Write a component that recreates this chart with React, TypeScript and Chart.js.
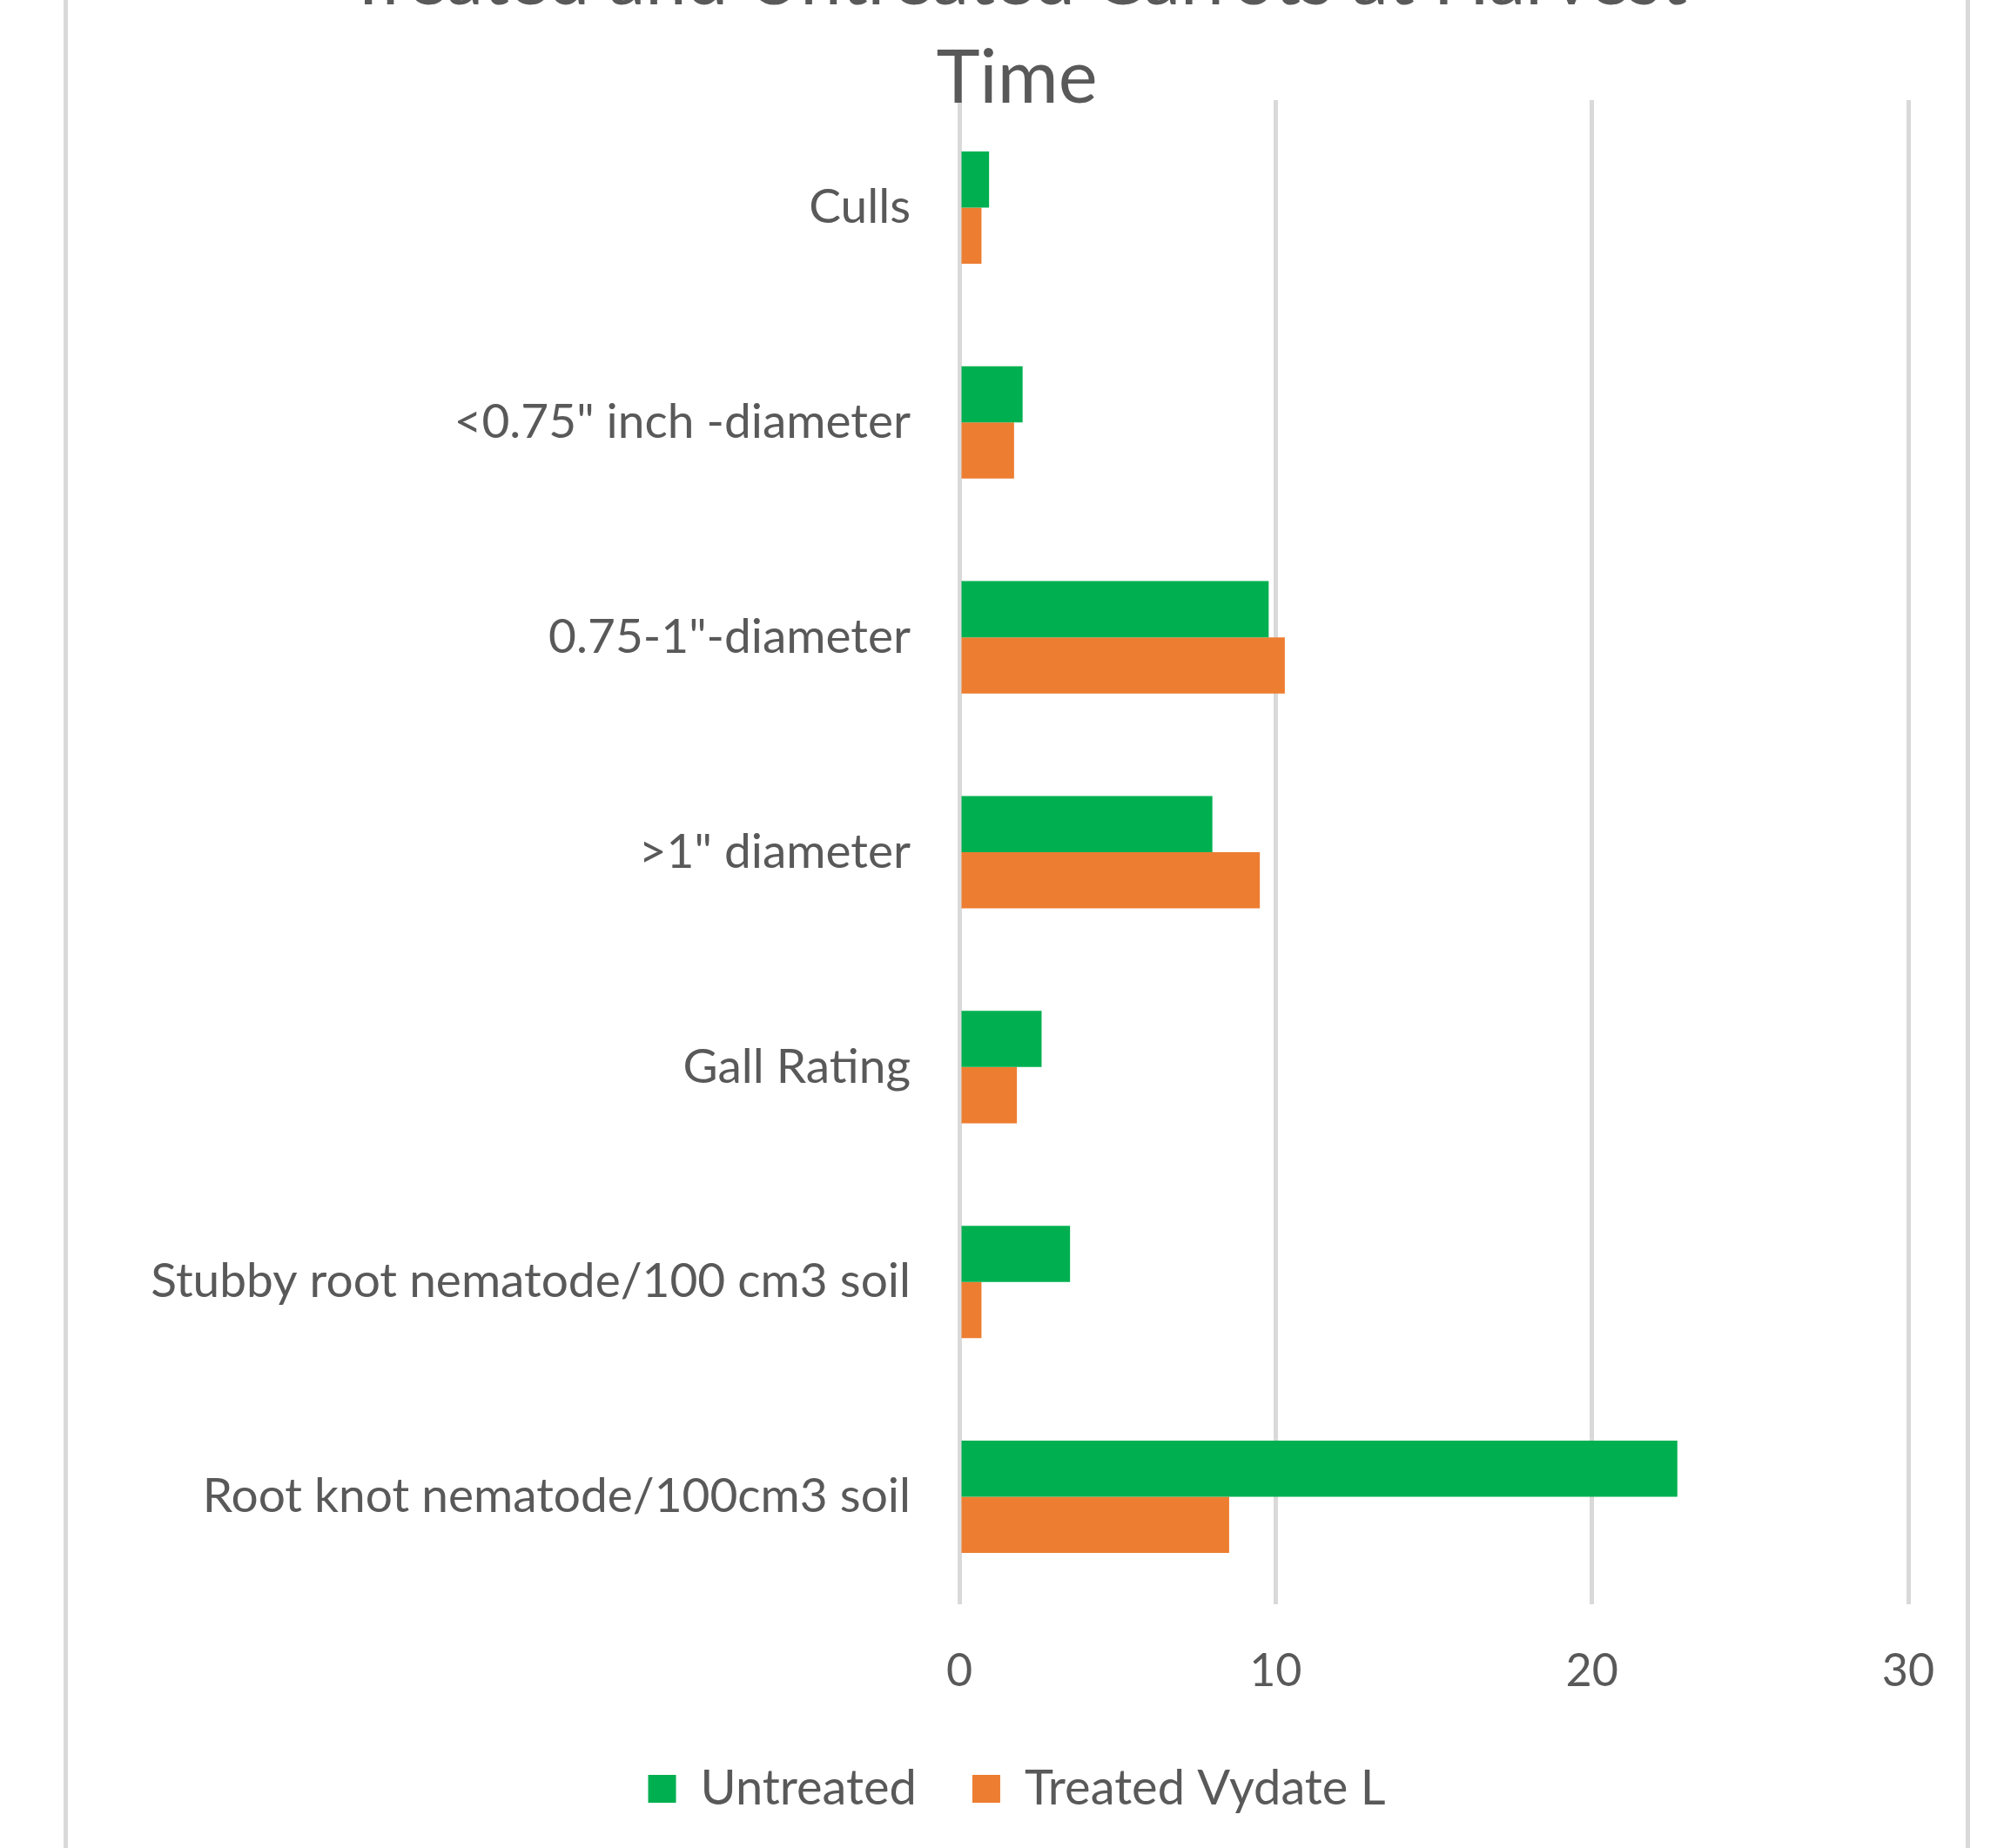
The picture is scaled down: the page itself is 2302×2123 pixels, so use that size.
import React, { useEffect, useRef } from "react";
import { Chart, registerables } from "chart.js";

Chart.register(...registerables);

const titleLines = ["Treated and Untreated Carrots at Harvest", "Time"];
const categories = [
  "Culls",
  '<0.75" inch -diameter',
  '0.75-1"-diameter',
  '>1" diameter',
  "Gall Rating",
  "Stubby root nematode/100 cm3 soil",
  "Root knot nematode/100cm3 soil",
];
const seriesNames = ["Untreated", "Treated Vydate L"];
const untreated = [0.94, 2.0, 9.78, 8.0, 2.6, 3.5, 22.7];
const treated = [0.7, 1.73, 10.29, 9.5, 1.82, 0.7, 8.53];
const xTicks = [0, 10, 20, 30];

const GREEN = "#00B050";
const ORANGE = "#ED7D31";
const GRID = "#D9D9D9";
const TEXT = "#595959";
const FONT = "Lato";

const CANVAS_W = 2302;
const CANVAS_TOP = -200;
const CANVAS_H = 2123 - CANVAS_TOP;

export default function App() {
  const ref = useRef<HTMLCanvasElement | null>(null);

  useEffect(() => {
    let chart: Chart | null = null;
    let cancelled = false;
    const build = () => {
      if (cancelled || !ref.current) return;
      chart = new Chart(ref.current, {
        type: "bar",
        data: {
          labels: categories,
          datasets: [
            {
              label: seriesNames[0],
              data: untreated,
              backgroundColor: GREEN,
              borderWidth: 0,
              categoryPercentage: 0.523,
              barPercentage: 1,
            },
            {
              label: seriesNames[1],
              data: treated,
              backgroundColor: ORANGE,
              borderWidth: 0,
              categoryPercentage: 0.523,
              barPercentage: 1,
            },
          ],
        },
        options: {
          indexAxis: "y",
          animation: false,
          responsive: false,
          maintainAspectRatio: false,
          devicePixelRatio: 1,
          layout: { padding: { left: 144, right: 110, top: 0, bottom: 30 } },
          plugins: {
            tooltip: { enabled: false },
            title: {
              display: true,
              text: titleLines,
              color: TEXT,
              font: { family: FONT, size: 85, weight: "normal", lineHeight: 113 / 85 },
              padding: { top: 121.5, bottom: -32.5 },
            },
            legend: {
              display: true,
              position: "bottom",
              labels: {
                boxWidth: 32,
                boxHeight: 32,
                padding: 64,
                color: TEXT,
                font: { family: FONT, size: 56 },
              },
            },
          },
          scales: {
            x: {
              type: "linear",
              position: "bottom",
              min: xTicks[0],
              max: xTicks[xTicks.length - 1],
              afterFit: (scale: any) => {
                scale.height = 120;
              },
              afterBuildTicks: (scale: any) => {
                scale.ticks = xTicks.map((v) => ({ value: v }));
              },
              grid: {
                color: GRID,
                lineWidth: 5,
                drawTicks: false,
              },
              border: { display: false },
              ticks: {
                color: TEXT,
                padding: 46,
                font: { family: FONT, size: 52 },
                maxRotation: 0,
              },
            },
            y: {
              type: "category",
              position: "left",
              afterFit: (scale: any) => {
                scale.width = 958;
              },
              grid: { display: false, drawTicks: false },
              border: { display: false },
              ticks: {
                color: TEXT,
                padding: 56,
                font: { family: FONT, size: 55 },
                autoSkip: false,
              },
            },
          },
        },
      });
    };
    const fontsReady = (document as any).fonts
      ? Promise.all([
          (document as any).fonts.load(`50px ${FONT}`),
          (document as any).fonts.load(`85px ${FONT}`),
        ]).catch(() => null)
      : Promise.resolve(null);
    fontsReady.then(build);
    return () => {
      cancelled = true;
      if (chart) chart.destroy();
    };
  }, []);

  return (
    <div
      style={{
        position: "fixed",
        left: 0,
        top: 0,
        width: CANVAS_W,
        height: 2123,
        overflow: "hidden",
        background: "#ffffff",
      }}
    >
      <div
        style={{
          position: "absolute",
          left: 73,
          top: 0,
          width: 2190,
          height: 2123,
          boxSizing: "border-box",
          borderLeft: `5px solid ${GRID}`,
          borderRight: `5px solid ${GRID}`,
        }}
      />
      <canvas
        ref={ref}
        width={CANVAS_W}
        height={CANVAS_H}
        style={{
          position: "absolute",
          left: 0,
          top: CANVAS_TOP,
          width: CANVAS_W,
          height: CANVAS_H,
        }}
      />
    </div>
  );
}
